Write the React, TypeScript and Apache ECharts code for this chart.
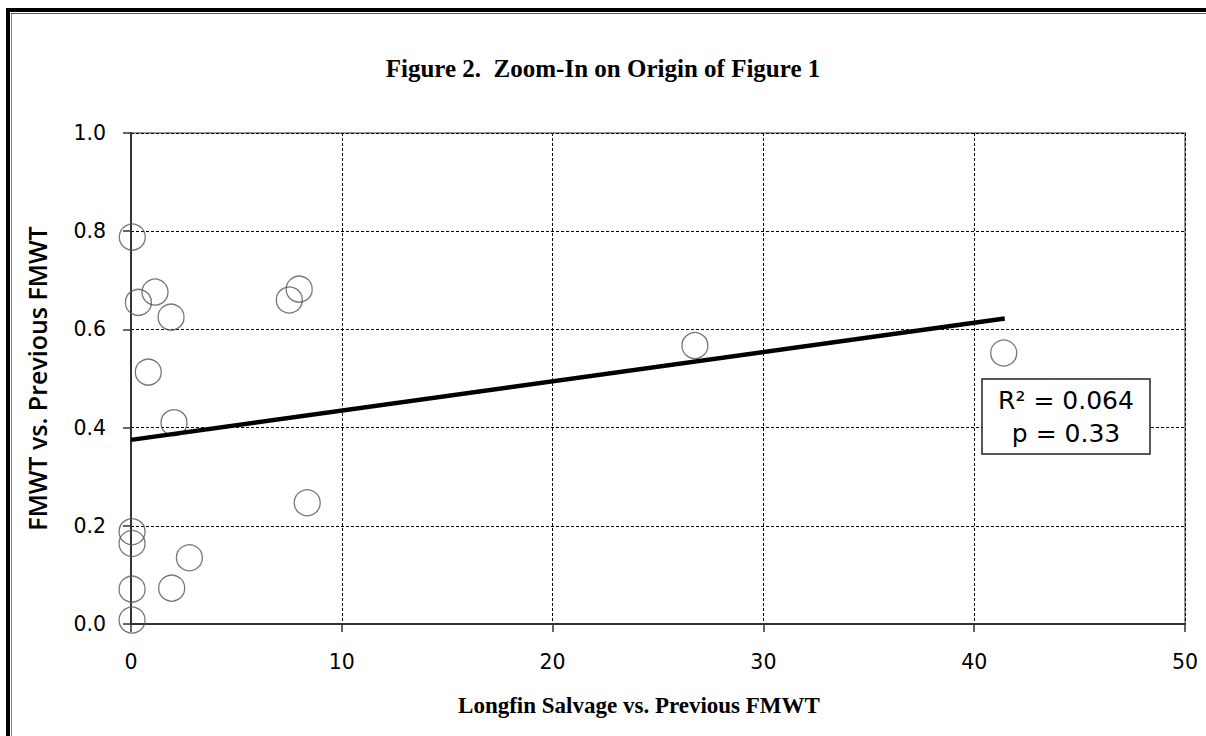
import React, { useEffect, useRef } from "react";
import * as echarts from "echarts";

const titleText = "Figure 2.  Zoom-In on Origin of Figure 1";
const xAxisTitle = "Longfin Salvage vs. Previous FMWT";
const yAxisTitle = "FMWT vs. Previous FMWT";

const salvageRatio = [0.06, 0.35, 1.14, 1.9, 0.82, 2.04, 7.51, 7.98, 8.36, 0.05, 0.05, 0.05, 0.05, 1.93, 2.77, 26.75, 41.4];
const fmwtRatio = [0.788, 0.655, 0.676, 0.625, 0.513, 0.41, 0.66, 0.682, 0.247, 0.188, 0.164, 0.071, 0.008, 0.073, 0.135, 0.567, 0.552];

const trendX = [0, 41.45];
const trendY = [0.375, 0.622];

const statsLines = ["R\u00b2 = 0.064", "p = 0.33"];

export default function App() {
  const ref = useRef<HTMLDivElement>(null);
  useEffect(() => {
    if (!ref.current) return;
    const chart = echarts.init(ref.current, null, { renderer: "svg" });
    const scatterData = salvageRatio.map((x, i) => [x, fmwtRatio[i]]);
    const trendData = trendX.map((x, i) => [x, trendY[i]]);
    chart.setOption({
      animation: false,
      backgroundColor: "#ffffff",
      title: {
        text: titleText,
        left: "center",
        top: 51,
        textStyle: {
          fontFamily: "Liberation Serif",
          fontWeight: "bold",
          fontSize: 25,
          color: "#000",
        },
      },
      grid: {
        left: 131,
        right: 21,
        top: 133,
        bottom: 112,
        show: true,
        borderColor: "#9a9a9a",
        borderWidth: 2,
        backgroundColor: "transparent",
      },
      xAxis: {
        type: "value",
        min: 0,
        max: 50,
        interval: 10,
        name: xAxisTitle,
        nameLocation: "middle",
        nameGap: 70,
        nameTextStyle: {
          fontFamily: "Liberation Serif",
          fontWeight: "bold",
          fontSize: 23,
          color: "#000",
          padding: [0, 38, 0, 0],
        },
        axisLine: { show: true, lineStyle: { color: "#333", width: 2 } },
        axisTick: { show: true, length: 8, lineStyle: { color: "#333", width: 1.5 } },
        axisLabel: {
          fontFamily: "DejaVu Sans",
          fontSize: 20.5,
          color: "#000",
          margin: 27,
        },
        splitLine: {
          show: true,
          lineStyle: { color: "#000", width: 1, type: [3, 2] },
        },
      },
      yAxis: {
        type: "value",
        min: 0,
        max: 1,
        interval: 0.2,
        name: yAxisTitle,
        nameLocation: "middle",
        nameRotate: 90,
        nameGap: 82,
        nameTextStyle: {
          fontFamily: "Open Sans",
          fontWeight: 600,
          fontSize: 25,
          color: "#000",
        },
        axisLine: { show: true, lineStyle: { color: "#333", width: 2 } },
        axisTick: { show: true, length: 8, lineStyle: { color: "#333", width: 1.5 } },
        axisLabel: {
          fontFamily: "DejaVu Sans",
          fontSize: 20.5,
          color: "#000",
          margin: 25,
          formatter: (v: number) => v.toFixed(1),
        },
        splitLine: {
          show: true,
          lineStyle: { color: "#000", width: 1, type: [3, 2] },
        },
      },
      series: [
        {
          type: "scatter",
          data: scatterData,
          symbol: "circle",
          symbolSize: 26,
          itemStyle: {
            color: "rgba(255,255,255,0)",
            borderColor: "#555",
            borderWidth: 1.3,
          },
          z: 3,
        },
        {
          type: "line",
          data: trendData,
          showSymbol: false,
          symbol: "none",
          lineStyle: { color: "#000", width: 4.5 },
          z: 4,
        },
      ],
      graphic: [
        { type: "rect", shape: { x: 6, y: 8, width: 4, height: 728 }, style: { fill: "#000" }, silent: true },
        { type: "rect", shape: { x: 6, y: 8, width: 1200, height: 4 }, style: { fill: "#000" }, silent: true },
        { type: "rect", shape: { x: 11, y: 13, width: 1, height: 723 }, style: { fill: "#888" }, silent: true },
        { type: "rect", shape: { x: 11, y: 13, width: 1195, height: 1 }, style: { fill: "#555" }, silent: true },
        {
          type: "rect",
          shape: { x: 982, y: 379, width: 168, height: 75 },
          style: { fill: "#fff", stroke: "#222", lineWidth: 1.5 },
          z: 10,
        },
        {
          type: "text",
          x: 1066,
          y: 417,
          z: 11,
          style: {
            text: statsLines.join("\n"),
            fontFamily: "DejaVu Sans",
            fontSize: 25,
            lineHeight: 33,
            fill: "#000",
            align: "center",
            verticalAlign: "middle",
          },
        },
      ],
    });
    return () => chart.dispose();
  }, []);
  return (
    <div
      ref={ref}
      style={{ position: "absolute", left: 0, top: 0, width: 1206, height: 736 }}
    />
  );
}
